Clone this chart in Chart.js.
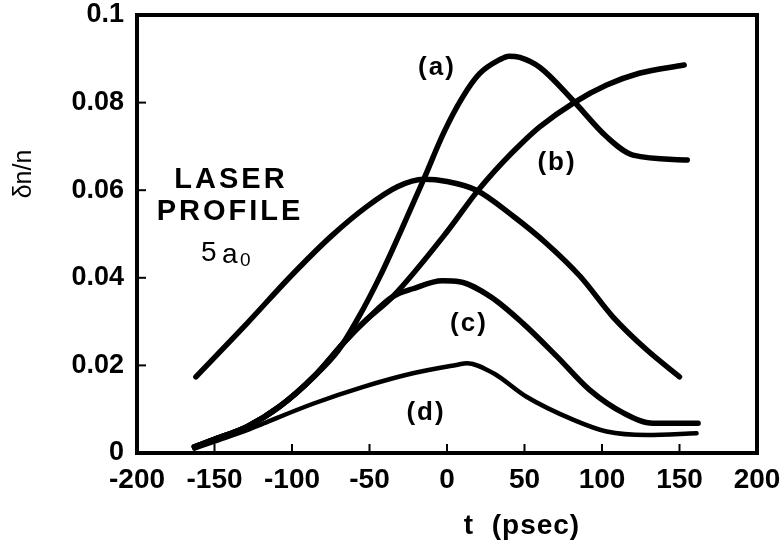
<!DOCTYPE html>
<html>
<head>
<meta charset="utf-8">
<script src="https://cdn.jsdelivr.net/npm/chart.js@4/dist/chart.umd.min.js"></script>
<style>
  html, body { margin: 0; padding: 0; background: #fff; }
  #wrap { width: 783px; height: 550px; }
</style>
</head>
<body>
<div id="wrap"><canvas id="chart" width="783" height="550"></canvas></div>
<script>
// values
const yTickLabels = ['0', '0.02', '0.04', '0.06', '0.08', '0.1'];

const laserT = [-162, -129, -101, -75, -52, -32, -15, 0, 19, 43, 64, 86, 107, 129, 150];
const laserN = [0.0174, 0.0296, 0.0403, 0.0494, 0.0562, 0.0608, 0.0625, 0.0620, 0.0600, 0.0540, 0.0479, 0.0403, 0.0311, 0.0235, 0.0174];

const aT = [-163, -151, -129, -108, -86, -70, -57, -43, -30, -15, -2, 10, 21, 34, 40, 47, 60, 81, 103, 120, 155];
const aN = [0.0014, 0.0030, 0.0060, 0.0106, 0.0174, 0.0235, 0.0310, 0.0405, 0.0505, 0.0625, 0.0732, 0.0812, 0.0866, 0.0898, 0.0906, 0.0903, 0.0880, 0.0806, 0.0722, 0.0680, 0.0669];

const bT = [-163, -151, -129, -108, -86, -65, -52, -35, 0, 19, 35, 49, 60, 82, 103, 124, 153];
const bN = [0.0014, 0.0030, 0.0060, 0.0106, 0.0174, 0.0258, 0.0304, 0.0357, 0.0505, 0.0595, 0.0660, 0.0710, 0.0745, 0.0800, 0.0840, 0.0867, 0.0886];

const cT = [-163, -151, -129, -108, -86, -65, -52, -35, -22, -3, 8, 28, 49, 71, 92, 114, 133, 162];
const cN = [0.0014, 0.0030, 0.0060, 0.0106, 0.0174, 0.0258, 0.0304, 0.0357, 0.0375, 0.0393, 0.0391, 0.0357, 0.0296, 0.0220, 0.0144, 0.0091, 0.0068, 0.0068];

const dT = [-163, -151, -129, -118, -86, -54, -22, 6, 13, 30, 51, 82, 103, 129, 161];
const dN = [0.0010, 0.0025, 0.0052, 0.0068, 0.0113, 0.0151, 0.0182, 0.0201, 0.0205, 0.0182, 0.0129, 0.0075, 0.0049, 0.0041, 0.0045];

const FONT = '"Liberation Sans", Arial, Helvetica, sans-serif';

function pts(xs, ys) { return xs.map((x, i) => ({ x, y: ys[i] })); }

function line(label, xs, ys, width) {
  return {
    label,
    data: pts(xs, ys),
    showLine: true,
    borderColor: '#000',
    borderWidth: width,
    borderCapStyle: 'round',
    borderJoinStyle: 'round',
    cubicInterpolationMode: 'monotone',
    pointRadius: 0,
    fill: false
  };
}

function spaced(ctx, v) { if ('letterSpacing' in ctx) ctx.letterSpacing = v; }

// frame, inward ticks and the text annotations
const decor = {
  id: 'decor',
  afterDraw(chart) {
    const { ctx, chartArea: a, scales: { x, y } } = chart;
    ctx.save();
    ctx.strokeStyle = '#000';
    ctx.lineWidth = 4;
    ctx.strokeRect(a.left, a.top, a.right - a.left, a.bottom - a.top);

    ctx.lineWidth = 2;
    x.ticks.forEach(t => {
      if (t.value <= x.min || t.value >= x.max) return;
      const px = x.getPixelForValue(t.value);
      ctx.beginPath(); ctx.moveTo(px, a.bottom); ctx.lineTo(px, a.bottom - 9); ctx.stroke();
    });
    y.ticks.forEach(t => {
      if (t.value <= y.min || t.value >= y.max) return;
      const py = y.getPixelForValue(t.value);
      ctx.beginPath(); ctx.moveTo(a.left, py); ctx.lineTo(a.left + 9, py); ctx.stroke();
    });

    ctx.fillStyle = '#000';
    ctx.textAlign = 'center';
    ctx.textBaseline = 'middle';

    ctx.font = 'bold 26px ' + FONT;
    spaced(ctx, '2px');
    [['(a)', 437, 68], ['(b)', 557, 163], ['(c)', 469, 324], ['(d)', 426, 413]]
      .forEach(([s, px, py]) => ctx.fillText(s, px, py));

    ctx.font = 'bold 29px ' + FONT;
    spaced(ctx, '3px');
    ctx.fillText('LASER', 231, 180);
    ctx.fillText('PROFILE', 230, 212);
    spaced(ctx, '0px');

    ctx.font = '28px ' + FONT;
    ctx.textAlign = 'left';
    ctx.fillText('5', 201, 253);
    ctx.fillText('a', 222, 255);
    ctx.font = '19px ' + FONT;
    ctx.fillText('0', 240, 261);

    ctx.textAlign = 'center';
    ctx.font = 'bold 28px ' + FONT;
    spaced(ctx, '1px');
    ctx.fillText('t  (psec)', 522, 526);
    spaced(ctx, '0px');

    ctx.save();
    ctx.translate(24, 174);
    ctx.rotate(-Math.PI / 2);
    ctx.font = '25px ' + FONT;
    ctx.fillText('δn/n', 0, 0);
    ctx.restore();

    ctx.restore();
  }
};

new Chart(document.getElementById('chart').getContext('2d'), {
  type: 'scatter',
  data: {
    datasets: [
      line('laser profile', laserT, laserN, 5.5),
      line('(a)', aT, aN, 5.5),
      line('(b)', bT, bN, 5.5),
      line('(c)', cT, cN, 5.5),
      line('(d)', dT, dN, 4.5)
    ]
  },
  options: {
    responsive: false,
    animation: false,
    layout: { padding: { top: 15, right: 26, left: 0, bottom: 0 } },
    plugins: { legend: { display: false }, tooltip: { enabled: false } },
    scales: {
      x: {
        type: 'linear',
        min: -200, max: 200,
        grid: { display: false, drawTicks: false },
        border: { display: false },
        ticks: {
          stepSize: 50,
          padding: 10,
          color: '#000',
          font: { family: FONT, size: 28, weight: 'bold' },
          maxRotation: 0
        },
        afterFit(s) { s.height = 97; s.paddingLeft = 0; s.paddingRight = 0; }
      },
      y: {
        type: 'linear',
        min: 0, max: 0.1,
        grid: { display: false, drawTicks: false },
        border: { display: false },
        ticks: {
          stepSize: 0.02,
          padding: 13,
          color: '#000',
          font: { family: FONT, size: 27, weight: 'bold' },
          callback: (v, i) => yTickLabels[i]
        },
        afterFit(s) { s.width = 137; s.paddingTop = 0; s.paddingBottom = 0; }
      }
    }
  },
  plugins: [decor]
});
</script>
</body>
</html>
